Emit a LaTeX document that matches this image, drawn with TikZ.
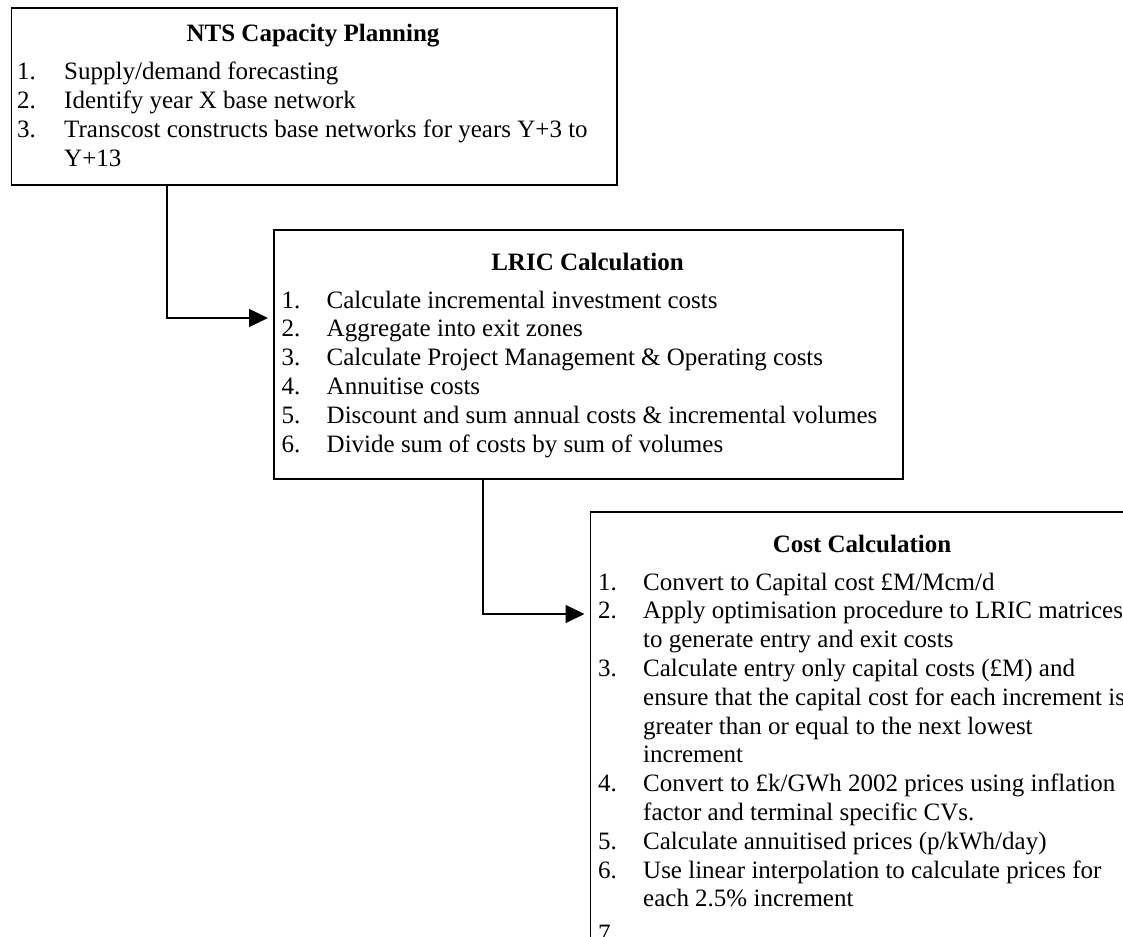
\documentclass[tikz,border=0pt]{standalone}
\usepackage{fontspec}
\setmainfont{Liberation Serif}
\usetikzlibrary{arrows.meta}
\begin{document}
\begin{tikzpicture}[x=1pt,y=-1pt,
  boxst/.style={draw, line width=1.6pt, inner sep=0pt, anchor=north west},
  ttl/.style={font=\fontsize{25}{28.8}\selectfont\bfseries, anchor=base, inner sep=0pt},
  lst/.style={font=\fontsize{25}{28.8}\selectfont, anchor=base west, inner sep=0pt, align=left},
  conn/.style={line width=1.4pt, -{Triangle[length=19pt,width=18pt]}, shorten >=5pt}]
\useasboundingbox (0,0) rectangle (1123,936);
\clip (0,0) rectangle (1123,936);
\fill[white] (0,0) rectangle (1123,936);
% boxes
\node[boxst, minimum width=605.5pt, minimum height=176.5pt] (b1) at (10.5,7.5) {};
\node[boxst, minimum width=629pt, minimum height=249pt] (b2) at (273,229) {};
\node[boxst, minimum width=546pt, minimum height=500pt] (b3) at (589.5,511) {};
% titles
\node[ttl] (t1) at (313,42) {NTS Capacity Planning};
\node[ttl] (t2) at (587.5,270) {LRIC Calculation};
\node[ttl] (t3) at (862,552) {Cost Calculation};
% lists
\node[lst] (l1) at (17,80) {\begin{tabular}[t]{@{}p{47pt}@{}l@{}}
1.&Supply/demand forecasting\\
2.&Identify year X base network\\
3.&Transcost constructs base networks for years Y+3 to\\
&Y+13
\end{tabular}};
\node[lst] (l2) at (281.5,308) {\begin{tabular}[t]{@{}p{45pt}@{}l@{}}
1.&Calculate incremental investment costs\\
2.&Aggregate into exit zones\\
3.&Calculate Project Management \& Operating costs\\
4.&Annuitise costs\\
5.&Discount and sum annual costs \& incremental volumes\\
6.&Divide sum of costs by sum of volumes
\end{tabular}};
\node[lst] (l3) at (598,590) {\begin{tabular}[t]{@{}p{45pt}@{}l@{}}
1.&Convert to Capital cost £M/Mcm/d\\
2.&Apply optimisation procedure to LRIC matrices\\
&to generate entry and exit costs\\
3.&Calculate entry only capital costs (£M) and\\
&ensure that the capital cost for each increment is\\
&greater than or equal to the next lowest\\
&increment\\
4.&Convert to £k/GWh 2002 prices using inflation\\
&factor and terminal specific CVs.\\
5.&Calculate annuitised prices (p/kWh/day)\\
6.&Use linear interpolation to calculate prices for\\
&each 2.5\% increment\\[6pt]
7.&
\end{tabular}};
% connectors
\coordinate (j1) at (167,318);
\coordinate (j2) at (483,614);
\draw[conn] (b1.south -| j1) |- (b2.west |- j1);
\draw[conn] (b2.south -| j2) |- (b3.west |- j2);
\end{tikzpicture}
\end{document}
